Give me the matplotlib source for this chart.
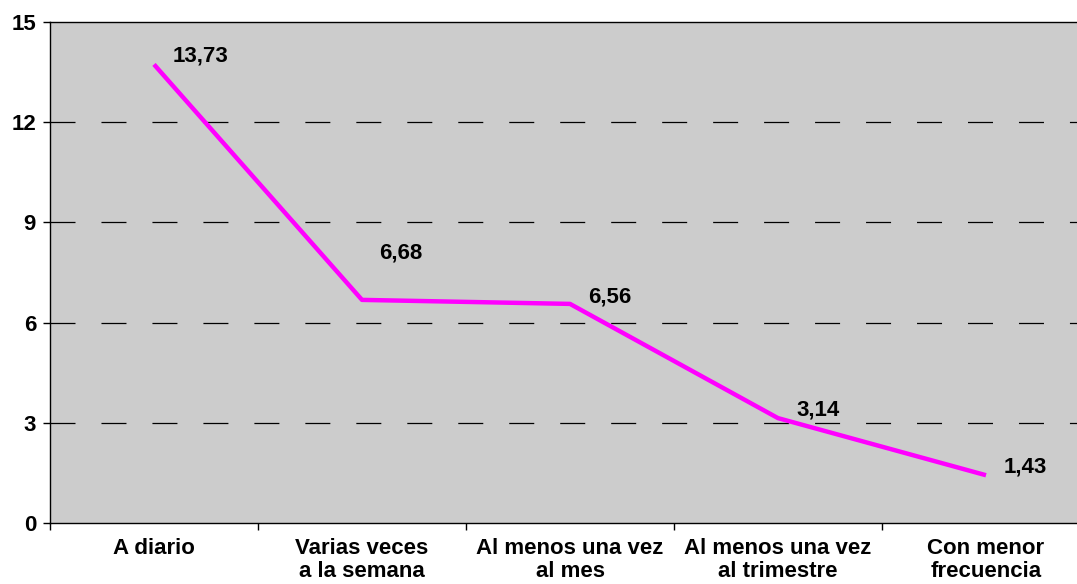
import matplotlib
matplotlib.use("Agg")
import matplotlib.pyplot as plt

plt.rcParams['font.family'] = ['Liberation Sans', 'DejaVu Sans']
plt.rcParams['lines.scale_dashes'] = False

categories = ["A diario", "Varias veces\na la semana", "Al menos una vez\nal mes",
              "Al menos una vez\nal trimestre", "Con menor\nfrecuencia"]
values = [13.73, 6.68, 6.56, 3.14, 1.43]
yticks = [0, 3, 6, 9, 12, 15]
label_offsets = [(46, 8), (39, 47), (40, 7), (40, 8), (39, 8)]  # pixels (dx, dy up)

fig = plt.figure(figsize=(10.77, 5.84), dpi=100)
W, H = 1077, 584
ax = fig.add_axes([50 / W, (H - 523) / H, 1040 / W, 501 / H])
ax.set_facecolor('#cccccc')

x = list(range(len(values)))
ax.plot(x, values, color='#ff00ff', lw=3.2, solid_capstyle='butt', zorder=3)

for xi, v, (dx, dy) in zip(x, values, label_offsets):
    ax.annotate(f"{v:.2f}".replace('.', ','), (xi, v), xytext=(dx * 0.72, dy * 0.72),
                textcoords='offset points', ha='center', va='center',
                fontsize=16, fontweight='bold', color='black', zorder=4)

ax.set_xlim(-0.5, len(values) - 0.5)
ax.set_ylim(0, 15)
ax.set_yticks(yticks)
ax.set_yticklabels([str(t) for t in yticks], fontsize=16, fontweight='bold')
ax.tick_params(axis='y', length=5, width=1, pad=5, direction='out')

ax.set_xticks([i - 0.5 for i in range(len(values) + 1)])
ax.set_xticklabels([])
ax.tick_params(axis='x', which='major', length=5, width=1, direction='out')
ax.set_xticks(x, minor=True)
ax.set_xticklabels(categories, minor=True, fontsize=16, fontweight='bold', linespacing=1.12)
ax.tick_params(axis='x', which='minor', length=0, pad=11)

for t in yticks[1:-1]:
    ax.axhline(t, color='black', lw=0.9, linestyle=(0, (18, 18.7)), zorder=2)

for s in ['left', 'bottom', 'top']:
    ax.spines[s].set_color('black')
    ax.spines[s].set_linewidth(1.0)
ax.spines['right'].set_visible(False)

fig.savefig('out.png', dpi=100)
